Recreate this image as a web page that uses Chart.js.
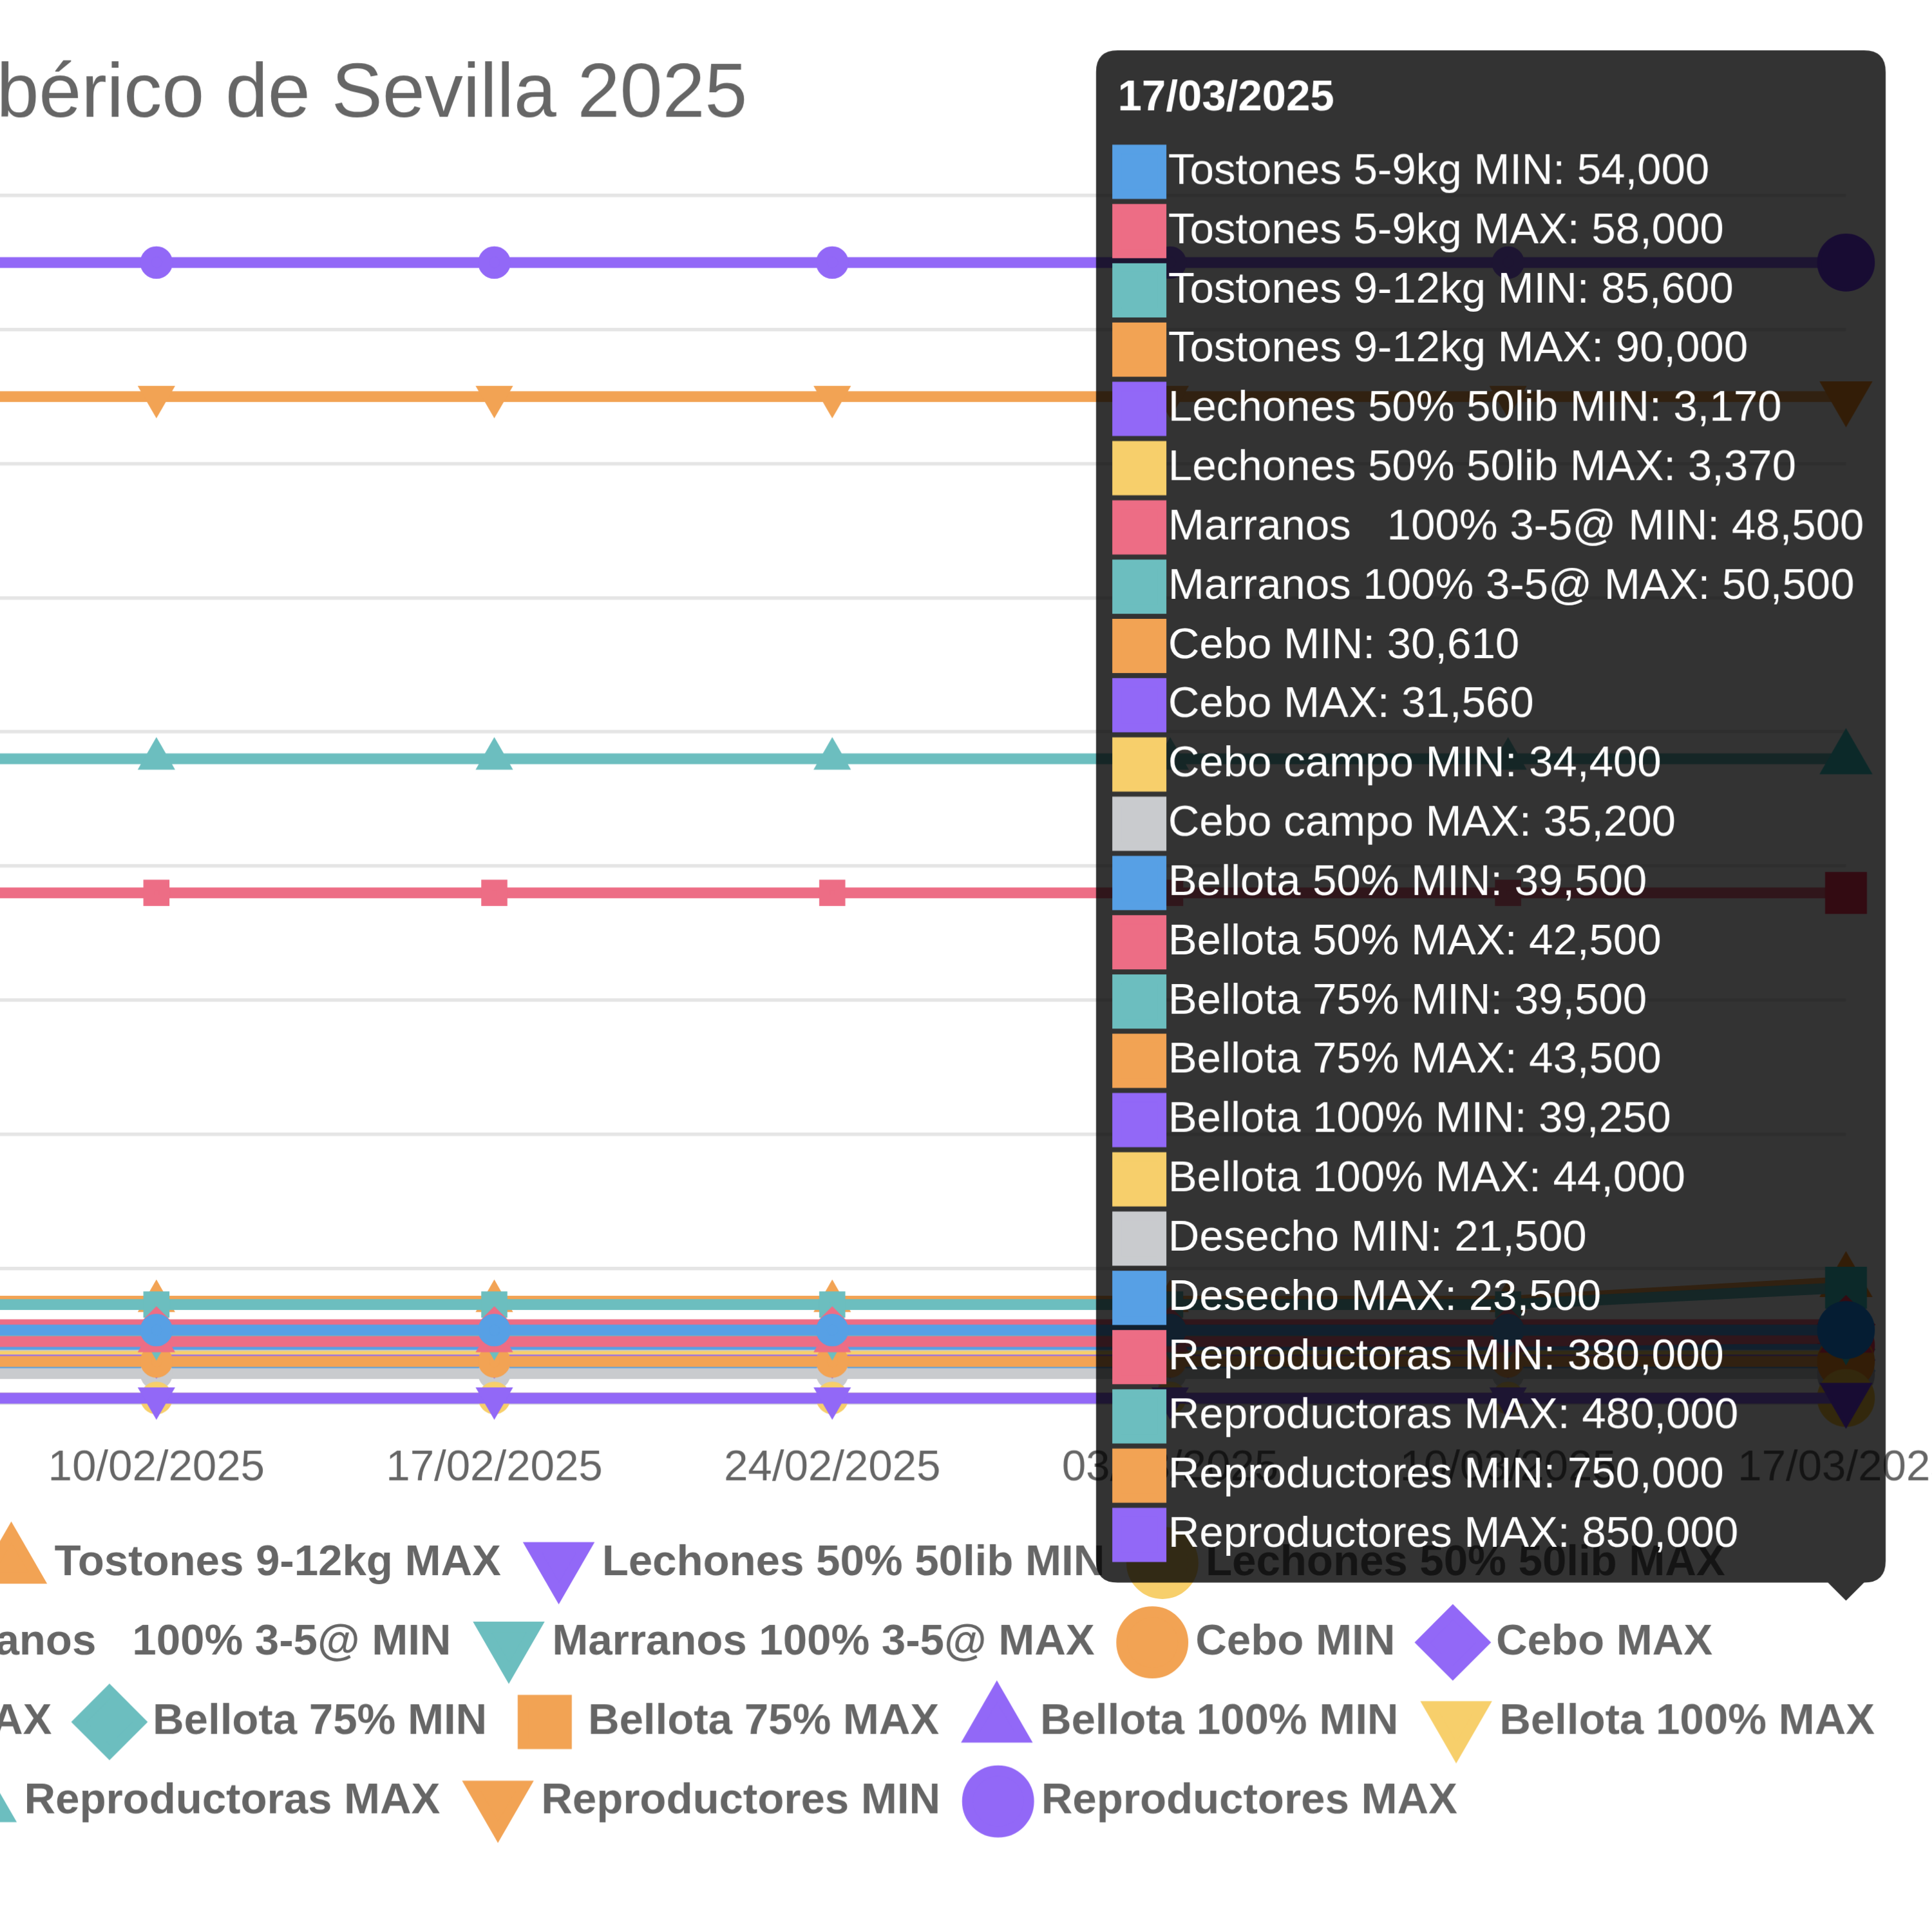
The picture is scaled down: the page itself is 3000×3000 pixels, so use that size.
<!DOCTYPE html>
<html>
<head>
<meta charset="utf-8">
<script src="https://cdn.jsdelivr.net/npm/chart.js@4.4.1/dist/chart.umd.min.js"></script>
<style>
  html, body { margin: 0; padding: 0; background: #ffffff; width: 3000px; height: 3000px; overflow: hidden; }
  #wrap { position: absolute; transform-origin: 0 0; }
</style>
</head>
<body>
<div id="wrap"><canvas id="chart"></canvas></div>
<script>
// ---------------- data ----------------
const labels = ['03/02/2025', '10/02/2025', '17/02/2025', '24/02/2025', '03/03/2025', '10/03/2025', '17/03/2025'];

const tostones59Min      = [54000, 54000, 54000, 54000, 54000, 54000, 54000];
const tostones59Max      = [58000, 58000, 58000, 58000, 58000, 58000, 58000];
const tostones912Min     = [73000, 73000, 73000, 73000, 73000, 73000, 85600];
const tostones912Max     = [75500, 75500, 75500, 75500, 75500, 75500, 90000];
const lechonesMin        = [3170, 3170, 3170, 3170, 3170, 3170, 3170];
const lechonesMax        = [3370, 3370, 3370, 3370, 3370, 3370, 3370];
const marranosMin        = [45500, 45500, 45500, 45500, 45500, 45500, 48500];
const marranosMax        = [47500, 47500, 47500, 47500, 47500, 47500, 50500];
const ceboMin            = [30610, 30610, 30610, 30610, 30610, 30610, 30610];
const ceboMax            = [31560, 31560, 31560, 31560, 31560, 31560, 31560];
const ceboCampoMin       = [34400, 34400, 34400, 34400, 34400, 34400, 34400];
const ceboCampoMax       = [35200, 35200, 35200, 35200, 35200, 35200, 35200];
const bellota50Min       = [39500, 39500, 39500, 39500, 39500, 39500, 39500];
const bellota50Max       = [42500, 42500, 42500, 42500, 42500, 42500, 42500];
const bellota75Min       = [39500, 39500, 39500, 39500, 39500, 39500, 39500];
const bellota75Max       = [43500, 43500, 43500, 43500, 43500, 43500, 43500];
const bellota100Min      = [39250, 39250, 39250, 39250, 39250, 39250, 39250];
const bellota100Max      = [44000, 44000, 44000, 44000, 44000, 44000, 44000];
const desechoMin         = [21500, 21500, 21500, 21500, 21500, 21500, 21500];
const desechoMax         = [23500, 23500, 23500, 23500, 23500, 23500, 23500];
const reproductorasMin   = [380000, 380000, 380000, 380000, 380000, 380000, 380000];
const reproductorasMax   = [480000, 480000, 480000, 480000, 480000, 480000, 480000];
const reproductoresMin   = [750000, 750000, 750000, 750000, 750000, 750000, 750000];
const reproductoresMax   = [850000, 850000, 850000, 850000, 850000, 850000, 850000];

const seriesNames = [
  'Tostones 5-9kg MIN', 'Tostones 5-9kg MAX', 'Tostones 9-12kg MIN', 'Tostones 9-12kg MAX',
  'Lechones 50% 50lib MIN', 'Lechones 50% 50lib MAX', 'Marranos   100% 3-5@ MIN', 'Marranos 100% 3-5@ MAX',
  'Cebo MIN', 'Cebo MAX', 'Cebo campo MIN', 'Cebo campo MAX',
  'Bellota 50% MIN', 'Bellota 50% MAX', 'Bellota 75% MIN', 'Bellota 75% MAX',
  'Bellota 100% MIN', 'Bellota 100% MAX', 'Desecho MIN', 'Desecho MAX',
  'Reproductoras MIN', 'Reproductoras MAX', 'Reproductores MIN', 'Reproductores MAX'
];
const seriesValues = [
  tostones59Min, tostones59Max, tostones912Min, tostones912Max,
  lechonesMin, lechonesMax, marranosMin, marranosMax,
  ceboMin, ceboMax, ceboCampoMin, ceboCampoMax,
  bellota50Min, bellota50Max, bellota75Min, bellota75Max,
  bellota100Min, bellota100Max, desechoMin, desechoMax,
  reproductorasMin, reproductorasMax, reproductoresMin, reproductoresMax
];
const palette = {
  blue: 'rgb(87, 160, 229)', red: 'rgb(237, 109, 133)', teal: 'rgb(108, 190, 191)',
  orange: 'rgb(242, 163, 84)', purple: 'rgb(146, 104, 247)', yellow: 'rgb(247, 207, 107)',
  grey: 'rgb(201, 203, 206)'
};
const seriesColors = [
  'blue', 'red', 'teal', 'orange', 'purple', 'yellow', 'red', 'teal',
  'orange', 'purple', 'yellow', 'grey', 'blue', 'red', 'teal', 'orange',
  'purple', 'yellow', 'grey', 'blue', 'red', 'teal', 'orange', 'purple'
];
const seriesMarkers = [
  'circle', 'rectRot', 'rect', 'triangle', 'down', 'circle', 'triangle', 'down',
  'circle', 'rectRot', 'rect', 'triangle', 'down', 'circle', 'rectRot', 'rect',
  'triangle', 'down', 'circle', 'rectRot', 'rect', 'triangle', 'down', 'circle'
];
const chartTitle = 'Precio del cerdo ibérico de Sevilla 2025';

// ---------------- layout (unscaled chart px) ----------------
const SCALE = 5.6;
const CANVAS_W = 1047, CANVAS_H = 512.5;
const CANVAS_X = -502.1, CANVAS_Y = 2.55;
const Y_AXIS_W = 451.8;
const TOOLTIP_ANCHOR_Y = 442.45;
const LEGEND_ROW2_PAD = 116;

const wrap = document.getElementById('wrap');
wrap.style.left = (CANVAS_X * SCALE) + 'px';
wrap.style.top = (CANVAS_Y * SCALE) + 'px';
wrap.style.width = CANVAS_W + 'px';
wrap.style.height = CANVAS_H + 'px';
wrap.style.transform = 'scale(' + SCALE + ')';
const canvas = document.getElementById('chart');
canvas.width = CANVAS_W; canvas.height = CANVAS_H;
canvas.style.width = CANVAS_W + 'px'; canvas.style.height = CANVAS_H + 'px';

Chart.defaults.font.family = "'Liberation Sans', Arial, Helvetica, sans-serif";
Chart.defaults.color = '#666';

Chart.Tooltip.positioners.cursor = function (items, eventPosition) {
  return { x: eventPosition.x, y: eventPosition.y };
};

const datasets = seriesNames.map((name, i) => {
  const c = palette[seriesColors[i]];
  const down = seriesMarkers[i] === 'down';
  return {
    label: name,
    data: seriesValues[i],
    borderColor: c,
    backgroundColor: c,
    pointStyle: down ? 'triangle' : seriesMarkers[i],
    pointRotation: down ? 180 : 0,
    borderWidth: 3,
    pointRadius: 3,
    pointHoverRadius: 7.5,
    fill: false,
    tension: 0
  };
});

const chart = new Chart(canvas, {
  type: 'line',
  data: { labels: labels, datasets: datasets },
  options: {
    responsive: false,
    devicePixelRatio: SCALE,
    animation: false,
    locale: 'en-US',
    interaction: { mode: 'index', intersect: false },
    scales: {
      x: { grid: { display: false } },
      y: {
        beginAtZero: true,
        afterFit: (scale) => { scale.width = Y_AXIS_W; }
      }
    },
    plugins: {
      title: {
        display: true,
        text: chartTitle,
        font: { size: 21.17, weight: 'normal' },
        color: '#666',
        padding: { top: 11.25, bottom: 14.95 }
      },
      legend: {
        position: 'bottom',
        labels: {
          usePointStyle: true,
          font: { size: 12, weight: 'bold' },
          generateLabels: (ch) => {
            const items = Chart.defaults.plugins.legend.labels.generateLabels(ch);
            items.forEach((it) => {
              if (it.datasetIndex === 6) it.text = ' '.repeat(LEGEND_ROW2_PAD) + it.text;
            });
            return items;
          }
        }
      },
      tooltip: {
        mode: 'index',
        intersect: false,
        position: 'cursor'
      }
    }
  }
});

const last = labels.length - 1;
const active = datasets.map((d, i) => ({ datasetIndex: i, index: last }));
chart.setActiveElements(active);
chart.tooltip.setActiveElements(active, { x: chart.scales.x.getPixelForValue(last), y: TOOLTIP_ANCHOR_Y });
chart.update();
</script>
</body>
</html>
